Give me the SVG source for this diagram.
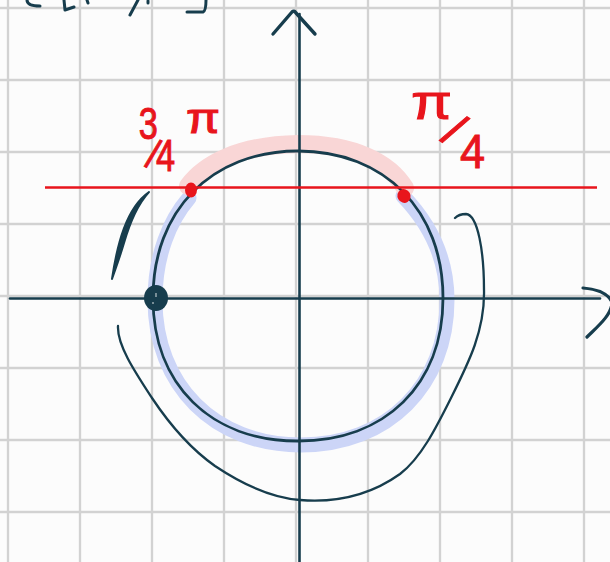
<svg xmlns="http://www.w3.org/2000/svg" width="610" height="562" viewBox="0 0 610 562">
<style>
.grid line{stroke:#d2d2d2;stroke-width:2.3}
.ink{fill:none;stroke:#173d4d;stroke-linecap:round;stroke-linejoin:round}
.red{fill:#e8151c;stroke:#e8151c;stroke-width:1;font-family:"Liberation Sans",Arial,sans-serif}
</style>
<rect width="610" height="562" fill="#fcfcfc"/>
<g class="grid">
<line x1="8" y1="0" x2="8" y2="562"/><line x1="80" y1="0" x2="80" y2="562"/><line x1="152" y1="0" x2="152" y2="562"/><line x1="224" y1="0" x2="224" y2="562"/><line x1="296" y1="0" x2="296" y2="562"/><line x1="368" y1="0" x2="368" y2="562"/><line x1="440" y1="0" x2="440" y2="562"/><line x1="512" y1="0" x2="512" y2="562"/><line x1="584" y1="0" x2="584" y2="562"/>
<line x1="0" y1="8" x2="610" y2="8"/><line x1="0" y1="80" x2="610" y2="80"/><line x1="0" y1="152" x2="610" y2="152"/><line x1="0" y1="224" x2="610" y2="224"/><line x1="0" y1="296" x2="610" y2="296"/><line x1="0" y1="368" x2="610" y2="368"/><line x1="0" y1="440" x2="610" y2="440"/><line x1="0" y1="512" x2="610" y2="512"/>
</g>
<g id="highlights">
<path d="M403,196 C428,222 447,255 447,300 C447,385 388,445 301,445 C214,445 155,385 155,300 C155,255 170,220 189,198" fill="none" stroke="#ccd5f7" stroke-width="15" stroke-linecap="round"/>
<path d="M188,186 C205,163 240,145 298,144 C355,144 390,163 405,188" fill="none" stroke="#f9d6d6" stroke-width="18" stroke-linecap="round"/>
</g>
<g id="top-fragments" class="ink" stroke-width="3">
<path d="M27,0 C27,4 31,6 40,6"/>
<path d="M64,0 L65,10 L74,7"/>
<path d="M87,0 L88,3"/>
<path d="M130,15 L138,0"/>
<path d="M148,1 L148,3"/>
<path d="M187,12 L203,12 Q206,11 206,0"/>
</g>
<g id="axes" class="ink" stroke-width="2.6">
<line x1="10" y1="298.5" x2="600" y2="298.5"/>
<line x1="299.5" y1="14" x2="299.5" y2="562"/>
<path d="M273,34 L292,12 Q294,10 296,13 L315,34" stroke-width="3.4"/>
<path d="M583,288 C597,289 608,294 612,302 C612,315 597,327 587,337" stroke-width="3.2"/>
</g>
<g id="unit-circle">
<path class="ink" stroke-width="2.8" d="M153,298 C153,211 211,151 298,151 C385,151 443,211 443,298 C443,385 385,441 298,441 C211,441 153,385 153,298 Z"/>
</g>
<g id="outer-arc">
<path class="ink" stroke-width="2.3" d="M118,326 C117,345 135,372 152,398 C168,422 188,447 215,466 C242,484 272,498 300,500 C337,503 372,494 400,474 C421,458 436,428 451,398 C469,362 485,330 484,290 C484,252 478,215 466,214 C461,214 457,216 455,218"/>
<path d="M112,279 C117,245 126,208 149,192 C138,204 130,222 124,243 C119,260 115,270 112,279 Z" fill="#173d4d" stroke="#173d4d" stroke-width="2" stroke-linejoin="round"/>
</g>
<g id="start-point">
<ellipse cx="156" cy="298" rx="12" ry="13" fill="#173d4d"/>
<path d="M156,293 L156,297 M153,302 L153,304" stroke="#ffffff" stroke-width="1.2" fill="none" opacity="0.7"/>
</g>
<g id="red-line">
<line x1="45" y1="187.5" x2="597" y2="187.5" stroke="#e8151c" stroke-width="2.5"/>
<ellipse cx="191" cy="190" rx="6" ry="7.5" fill="#e8151c"/>
<ellipse cx="404" cy="196" rx="6.5" ry="7" fill="#e8151c" transform="rotate(-30 404 196)"/>
</g>
<g id="label-3-4-pi">
<text class="red" transform="scale(0.78 1)" font-size="44" x="178 185 200" y="139 166 171" rotate="0 22 0">3/4</text>
<text class="red" x="186" y="133" font-size="42" textLength="34" lengthAdjust="spacingAndGlyphs">π</text>
</g>
<g id="label-pi-4">
<text class="red" x="411" y="119" font-size="48" textLength="41" lengthAdjust="spacingAndGlyphs">π</text>
<text class="red" x="448" y="148" font-size="48" transform="rotate(34 457 130)">/</text>
<text class="red" x="460" y="168" font-size="48" textLength="25" lengthAdjust="spacingAndGlyphs">4</text>
</g>
</svg>
